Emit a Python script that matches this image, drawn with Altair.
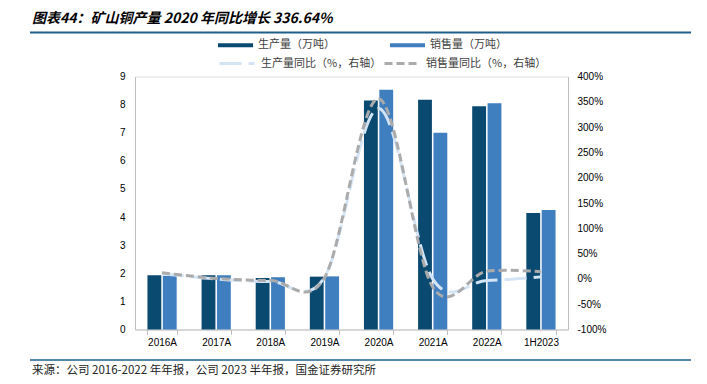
import altair as alt
import pandas as pd

categories = ["2016A", "2017A", "2018A", "2019A", "2020A", "2021A", "2022A", "1H2023"]
production = [1.93, 1.93, 1.83, 1.88, 8.15, 8.17, 7.94, 4.14]
sales = [1.91, 1.93, 1.86, 1.89, 8.53, 7.00, 8.05, 4.25]
prod_yoy = [10, 0, -5, 3, 336.64, 0, -3, 4]
sales_yoy = [12, 1, -3, 2, 356, -16, 15, 14]

bar_series = ["生产量（万吨）", "销售量（万吨）"]
line_series = ["生产量同比（%，右轴）", "销售量同比（%，右轴）"]
title_text = "图表44：矿山铜产量 2020 年同比增长 336.64%"
source_text = "来源：公司 2016-2022 年年报，公司 2023 半年报，国金证券研究所"

bars_df = pd.DataFrame({
    "cat": categories * 2,
    "series": [bar_series[0]] * len(categories) + [bar_series[1]] * len(categories),
    "value": production + sales,
})
lines_df = pd.DataFrame({
    "cat": categories * 2,
    "series": [line_series[0]] * len(categories) + [line_series[1]] * len(categories),
    "yoy": prod_yoy + sales_yoy,
})

CJK = "Noto Sans CJK SC, sans-serif"

x_enc = alt.X(
    "cat:N", sort=categories, title=None,
    scale=alt.Scale(paddingInner=0.46, paddingOuter=0.23),
    axis=alt.Axis(labelAngle=0, tickBand="extent", tickSize=5, labelPadding=3,
                  domainColor="#BFBFBF", tickColor="#BFBFBF"),
)

line_legend = dict(orient="none", legendX=83, legendY=-32, direction="horizontal",
                   title=None, symbolType="stroke", symbolSize=1225,
                   symbolStrokeWidth=3, labelFontSize=11, labelFont=CJK,
                   labelColor="#404040", columnPadding=-4, labelOffset=5)

bars = alt.Chart(bars_df).mark_bar().encode(
    x=x_enc,
    xOffset=alt.XOffset("series:N", sort=bar_series, scale=alt.Scale(paddingInner=0.1)),
    y=alt.Y("value:Q", title=None,
            scale=alt.Scale(domain=[0, 9], nice=False),
            axis=alt.Axis(values=list(range(10)), ticks=False, labelPadding=10, grid=False,
                          domainColor="#BFBFBF")),
    color=alt.Color("series:N", sort=bar_series,
                    scale=alt.Scale(domain=bar_series, range=["#0B4A70", "#3F7FBF"]),
                    legend=alt.Legend(orient="none", legendX=83, legendY=-49, direction="horizontal",
                                      title=None, symbolType="M-1,-0.12L1,-0.12L1,0.12L-1,0.12Z",
                                      symbolSize=1225, symbolStrokeWidth=0, labelFontSize=11,
                                      labelFont=CJK, labelColor="#404040",
                                      columnPadding=55, labelOffset=5)),
)

lines = alt.Chart(lines_df).mark_line(strokeWidth=3, interpolate="cardinal").encode(
    x=alt.X("cat:N", sort=categories),
    y=alt.Y("yoy:Q", title=None,
            scale=alt.Scale(domain=[-100, 400], nice=False),
            axis=alt.Axis(orient="right", values=list(range(-100, 401, 50)), ticks=False,
                          labelPadding=9, grid=False, labelExpr="datum.value + '%'",
                          domainColor="#BFBFBF")),
    color=alt.Color("series:N", sort=line_series,
                    scale=alt.Scale(domain=line_series, range=["#D3E4F5", "#ABABAB"]),
                    legend=alt.Legend(**line_legend)),
    strokeDash=alt.StrokeDash("series:N", sort=line_series,
                              scale=alt.Scale(domain=line_series, range=[[22, 7], [8, 4]]),
                              legend=alt.Legend(**line_legend)),
)

title_layer = alt.Chart(pd.DataFrame({"t": [title_text]})).mark_text(
    align="left", baseline="middle", font=CJK, fontSize=14, fontWeight="bold",
    fontStyle="italic", color="#000000",
).encode(x=alt.value(-103), y=alt.value(-58), text="t:N")

top_rule = alt.Chart(pd.DataFrame({"a": [0]})).mark_rule(color="#1F5F8B", strokeWidth=2).encode(
    x=alt.value(-105), x2=alt.value(556), y=alt.value(-44))

bottom_rule = alt.Chart(pd.DataFrame({"a": [0]})).mark_rule(color="#1F5F8B", strokeWidth=1.5).encode(
    x=alt.value(-105), x2=alt.value(556), y=alt.value(283.5))

source_layer = alt.Chart(pd.DataFrame({"t": [source_text]})).mark_text(
    align="left", baseline="middle", font=CJK, fontSize=11.5, color="#222222",
).encode(x=alt.value(-103), y=alt.value(294), text="t:N")

chart = alt.layer(bars, lines, title_layer, top_rule, bottom_rule, source_layer).resolve_scale(
    y="independent", color="independent", strokeDash="independent"
).properties(
    width=433, height=253,
    autosize=alt.AutoSizeParams(type="none"),
    padding={"left": 127, "top": 68.5, "right": 131, "bottom": 46.5},
).configure_view(stroke=None).configure_axis(
    labelFont="Liberation Sans", labelFontSize=11, labelColor="#595959"
).configure(background="white")

chart.save("out.html", embed_options={"renderer": "svg", "actions": False})
